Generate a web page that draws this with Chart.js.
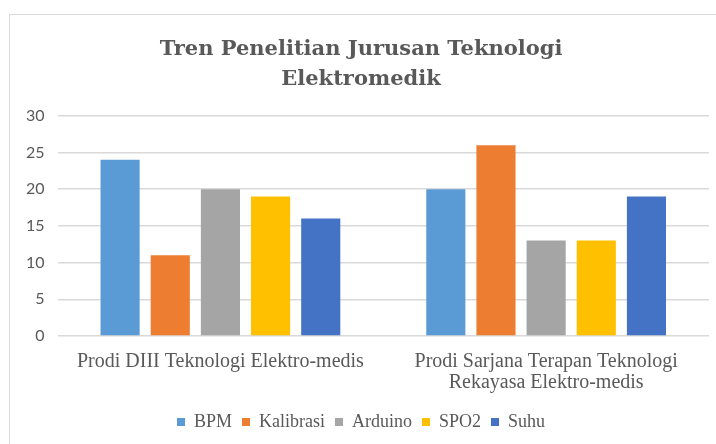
<!DOCTYPE html>
<html>
<head>
<meta charset="utf-8">
<script src="https://cdn.jsdelivr.net/npm/chart.js@4"></script>
<style>
  html, body { margin: 0; padding: 0; background: #fff; overflow: hidden; width: 716px; height: 444px; }
  #frame { position: absolute; left: 9px; top: 14px; width: 725px; height: 440px; border-left: 1px solid #d9d9d9; border-top: 1px solid #d9d9d9; }
  #wrap { position: absolute; left: 0; top: 0; width: 725px; height: 430px; }
</style>
</head>
<body>
<div id="frame"><div id="wrap"><canvas id="c"></canvas></div></div>
<script>
const categories = [
  "Prodi DIII Teknologi Elektro-medis",
  ["Prodi Sarjana Terapan Teknologi", "Rekayasa Elektro-medis"]
];
const seriesNames = ["BPM", "Kalibrasi", "Arduino", "SPO2", "Suhu"];
const BPM = [24, 20];
const Kalibrasi = [11, 26];
const Arduino = [20, 13];
const SPO2 = [19, 13];
const Suhu = [16, 19];
const yTicks = [0, 5, 10, 15, 20, 25, 30];
const titleLines = ["Tren Penelitian Jurusan Teknologi", "Elektromedik"];

const colors = ["#5b9bd5", "#ed7d31", "#a5a5a5", "#ffc000", "#4472c4"];
const seriesValues = [BPM, Kalibrasi, Arduino, SPO2, Suhu];

new Chart(document.getElementById('c'), {
  type: 'bar',
  data: {
    labels: categories,
    datasets: seriesNames.map((n, i) => ({
      label: n,
      data: seriesValues[i],
      backgroundColor: colors[i],
      borderWidth: 0,
      categoryPercentage: 0.77,
      barPercentage: 0.78
    }))
  },
  options: {
    responsive: true,
    maintainAspectRatio: false,
    animation: false,
    layout: { padding: { left: 3, right: 26, top: 20, bottom: 4 } },
    plugins: {
      title: {
        display: true,
        text: titleLines,
        color: '#595959',
        font: { family: 'DejaVu Serif', size: 21, weight: 'bold', lineHeight: 1.4 },
        padding: { top: 0, bottom: 22 }
      },
      legend: {
        position: 'bottom',
        labels: {
          boxWidth: 8, boxHeight: 8,
          color: '#595959',
          font: { family: 'Liberation Serif', size: 18 },
          padding: 10
        }
      },
      tooltip: { enabled: false }
    },
    scales: {
      x: {
        grid: { display: false },
        border: { display: false },
        ticks: {
          color: '#595959',
          font: { family: 'Liberation Serif', size: 20, lineHeight: 1.05 },
          padding: 7,
          maxRotation: 0
        },
        afterFit(axis) { axis.height = 67; }
      },
      y: {
        min: 0, max: 30,
        afterBuildTicks(axis) { axis.ticks = yTicks.map(v => ({ value: v })); },
        grid: { color: '#d9d9d9', lineWidth: 1.5, drawTicks: false },
        border: { display: false },
        ticks: {
          color: '#595959',
          font: { family: 'Lato', size: 16 },
          padding: 13
        }
      }
    }
  }
});
</script>
</body>
</html>
